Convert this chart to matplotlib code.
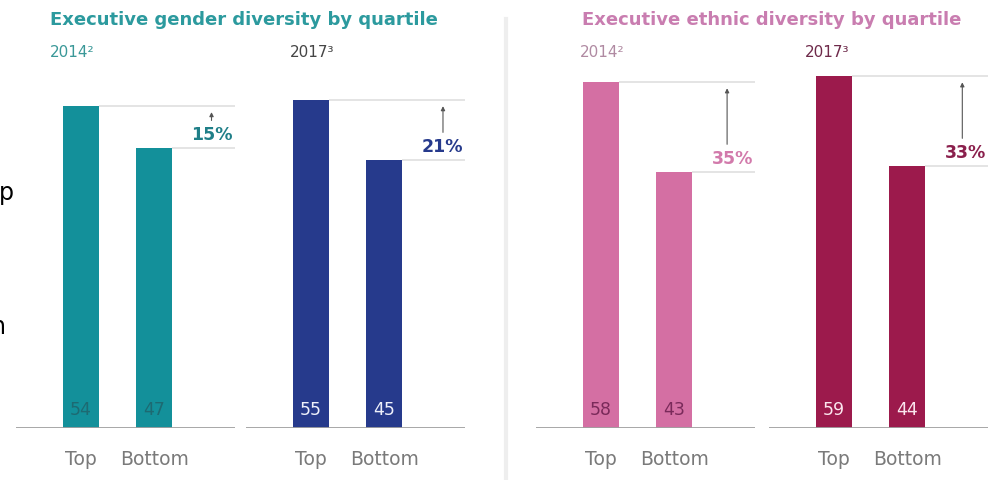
import matplotlib.pyplot as plt

# Executive diversity by quartile, top vs bottom quartile
quartiles = ["Top", "Bottom"]

gender_2014 = [54, 47]
gender_2017 = [55, 45]
ethnic_2014 = [58, 43]
ethnic_2017 = [59, 44]

gender_uplift = ["15%", "21%"]
ethnic_uplift = ["35%", "33%"]

W, H = 997, 481
fig = plt.figure(figsize=(W / 100, H / 100), dpi=100)
fig.patch.set_facecolor("white")


def fx(x):
    return x / W


def fy(y):
    return 1 - y / H


BASE = 429       # baseline, pixels from the top
TOP = 40         # top of the plotting area
UNIT = 5.96      # pixels per percentage point
XLO, XHI = -0.88, 2.1
SPACING = 73.5   # pixels between the two bars


def panel(left, values, uplift, bar_color, num_color, pct_color, arrow_x):
    width_px = (XHI - XLO) * SPACING
    ax = fig.add_axes([fx(left), fy(BASE), width_px / W, (BASE - TOP) / H])
    ax.set_xlim(XLO, XHI)
    ax.set_ylim(0, (BASE - TOP) / UNIT)
    for s in ax.spines.values():
        s.set_visible(False)
    ax.set_yticks([])
    ax.set_xticks([0, 1])
    ax.set_xticklabels(quartiles, fontsize=13.5, color="#7a7a7a")
    ax.tick_params(axis="x", length=0, pad=15)

    bw = 0.49
    ax.bar([0, 1], values, width=bw, color=bar_color, zorder=2)
    ax.axhline(0, color="#a0a0a0", lw=1.3, zorder=3)

    # guide lines from each bar top to the right edge
    for i, v in enumerate(values):
        ax.hlines(v, i + bw / 2, XHI, color="#dcdcdc", lw=1.1, zorder=1)
        ax.text(i, 3.2, str(v), ha="center", va="center", fontsize=12.5,
                color=num_color, zorder=4)

    hi, lo = values
    ax.text(XHI - 0.03, lo + 0.8, uplift, ha="right", va="bottom",
            fontsize=12.5, color=pct_color, fontweight="bold")
    ax.annotate("", xy=(arrow_x, hi - 1.0), xytext=(arrow_x, lo + 4.6),
                arrowprops=dict(arrowstyle="-|>", color="#555555", lw=0.8,
                                mutation_scale=6, shrinkA=0, shrinkB=0))
    return ax


teal = "#13909a"
navy = "#263a8c"
pink = "#d46fa3"
crimson = "#9c1a4c"

panel(16, gender_2014, gender_uplift[0], teal, "#1d6a72", "#1f7f88", 1.78)
panel(246, gender_2017, gender_uplift[1], navy, "#eef0fa", navy, 1.80)
panel(536, ethnic_2014, ethnic_uplift[0], pink, "#7a2a5a", "#d27aab", 1.72)
panel(769, ethnic_2017, ethnic_uplift[1], crimson, "#fbe6ee", "#8a1f4c", 1.75)

# titles and year headers
fig.text(fx(50), fy(20), "Executive gender diversity by quartile",
         fontsize=13, fontweight="bold", color="#2c9a9e", va="center")
fig.text(fx(582), fy(20), "Executive ethnic diversity by quartile",
         fontsize=13, fontweight="bold", color="#c97db0", va="center")

fig.text(fx(50), fy(53), "2014²", fontsize=11, color="#3a9898", va="center")
fig.text(fx(290), fy(53), "2017³", fontsize=11, color="#454545", va="center")
fig.text(fx(580), fy(53), "2014²", fontsize=11, color="#b08aa2", va="center")
fig.text(fx(805), fy(53), "2017³", fontsize=11, color="#6e2a4a", va="center")

# divider between the two charts
fig.add_artist(plt.Line2D([fx(506), fx(506)], [fy(20), fy(481)],
                          color="#eeeeee", lw=3))

# clipped text from the neighbouring column
fig.text(fx(-1), fy(200), "p", fontsize=17, color="black", va="baseline")
fig.text(fx(-9), fy(334), "n", fontsize=17, color="black", va="baseline")

fig.savefig("out.png", dpi=100, facecolor="white")
